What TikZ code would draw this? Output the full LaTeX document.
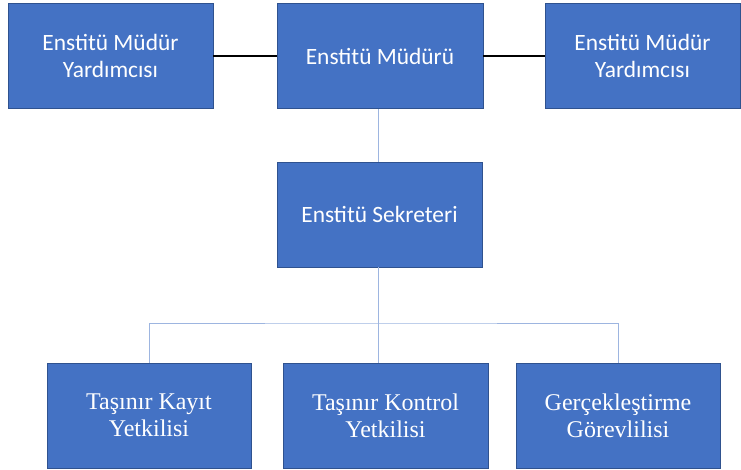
\documentclass[tikz,border=0pt]{standalone}
\usepackage{fontspec}
\setmainfont{Carlito}
\newfontfamily\boxserif{Liberation Serif}

\definecolor{boxblue}{HTML}{4472C4}
\definecolor{boxedge}{HTML}{2F528F}
\definecolor{linkblue}{HTML}{9DB5E0}

\tikzset{
	unit/.style = {draw = boxedge, fill = boxblue, text = white, line width = 0.8pt,
		minimum width = 205pt, minimum height = 105pt, inner sep = 0pt, align = center,
		font = \fontsize{23.4}{27}\selectfont},
	lowunit/.style = {unit, font = \boxserif\fontsize{24}{27}\selectfont},
	peer/.style = {draw = black, line width = 1.4pt},
	orgline/.style = {draw = linkblue, line width = 1pt}
}

\begin{document}
\begin{tikzpicture}[x = 1pt, y = -1pt]
	\useasboundingbox (0,0) rectangle (741,470);

	% ust sira
	\node[unit] (yardsol) at (110.5,56) {Enstitü Müdür\\Yardımcısı};
	\node[unit, minimum width = 206pt] (mudur) at (380,56) {Enstitü Müdürü};
	\node[unit, minimum width = 195pt] (yardsag) at (642.5,56) {Enstitü Müdür\\Yardımcısı};
	\node[unit] (sekreter) at (379.5,214.5) {Enstitü Sekreteri};

	% alt sira
	\node[lowunit, minimum width = 204pt] (kayit) at (149,415.5) {Taşınır Kayıt\\Yetkilisi};
	\node[lowunit] (kontrol) at (385.5,415.5) {Taşınır Kontrol\\Yetkilisi};
	\node[lowunit, minimum width = 204pt] (gercek) at (618,415.5) {Gerçekleştirme\\Görevlilisi};

	\draw[peer] (yardsol.east)--(mudur.west);
	\draw[peer] (mudur.east)--(yardsag.west);

	\coordinate (bus) at (378,323);
	\draw[orgline] (mudur.south -| bus)--(sekreter.north -| bus);
	\draw[orgline] (sekreter.south -| bus)--(bus);
	\draw[orgline] (kayit.north) |- (bus) -| (gercek.north);
	\draw[orgline] (bus)--(bus |- kontrol.north);
\end{tikzpicture}
\end{document}
